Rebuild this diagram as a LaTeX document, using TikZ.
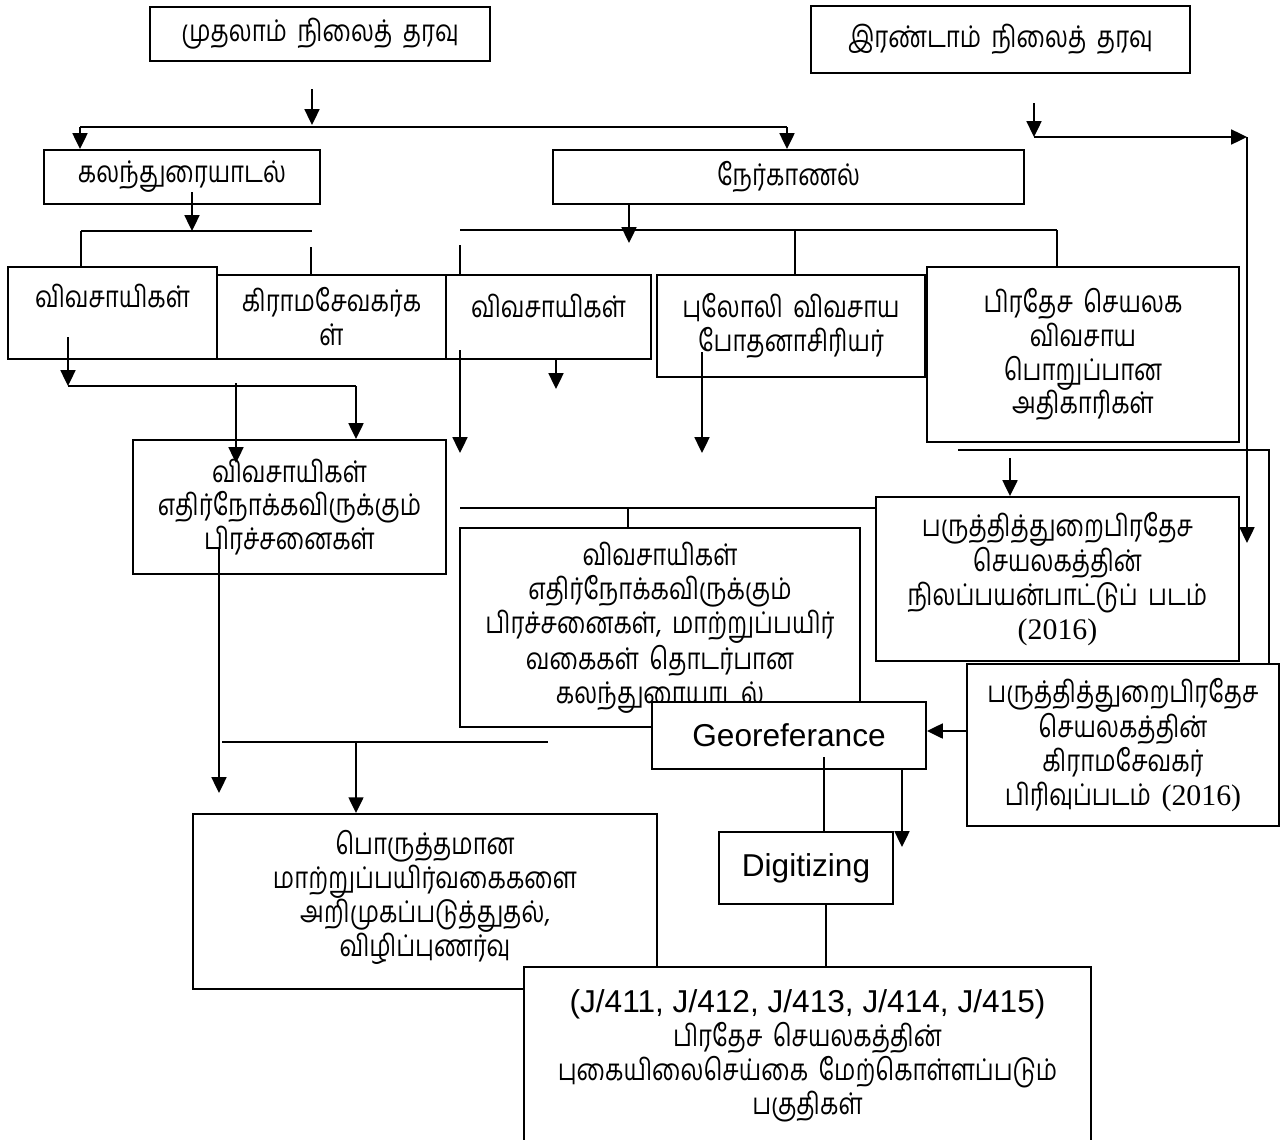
\documentclass[tikz,border=0pt]{standalone}
\usepackage{fontspec}
\setmainfont{Liberation Serif}
\newfontfamily\tamilfont[Script=Tamil, FakeStretch=0.8, WordSpace=1.8]{Hind Madurai}
\newfontfamily\latinfont{Liberation Sans}
\usetikzlibrary{arrows.meta}

\begin{document}
\begin{tikzpicture}[x=0.02cm, y=-0.02cm,
    box/.style={draw, line width=1.1pt, fill=white, align=center, inner sep=0pt, font=\tamilfont\fontsize{17}{19.3}\selectfont},
    engbox/.style={box, font=\latinfont\fontsize{18}{21}\selectfont},
    link/.style={line width=1.1pt},
    flow/.style={line width=1.1pt, -{Triangle[length=9pt, width=8.5pt]}}]
    \useasboundingbox (0,0) rectangle (1284,1139);

    % Data sources
    \node[box, minimum width=6.8cm, minimum height=1.08cm] (first) at (320,34) {முதலாம் நிலைத் தரவு};
    \node[box, minimum width=7.58cm, minimum height=1.34cm] (second) at (1000.5,39.5) {இரண்டாம் நிலைத் தரவு};

    % Methods
    \node[box, minimum width=5.52cm, minimum height=1.08cm] (discuss) at (182,177) {கலந்துரையாடல்};
    \node[box, minimum width=9.42cm, minimum height=1.08cm] (interview) at (788.5,177) {நேர்காணல்};

    % Participants
    \node[box, minimum width=4.18cm, minimum height=1.84cm] (farmersA) at (112.5,313) {விவசாயிகள்\\\mbox{}};
    \node[box, minimum width=4.58cm, minimum height=1.68cm] (gramasevaka) at (331.5,317) {கிராமசேவகர்க\\ள்};
    \node[box, minimum width=4.1cm, minimum height=1.68cm] (farmersB) at (548.5,317) {விவசாயிகள்\\[-6pt]\mbox{}};
    \node[box, minimum width=5.36cm, minimum height=2.04cm] (instructor) at (791,326) {புலோலி விவசாய\\போதனாசிரியர்};
    \node[box, minimum width=6.24cm, minimum height=3.5cm] (officers) at (1083,354.5) {பிரதேச செயலக\\விவசாய\\பொறுப்பான\\அதிகாரிகள்};

    % Results
    \node[box, minimum width=6.26cm, minimum height=2.68cm] (issues) at (289.5,507) {விவசாயிகள்\\எதிர்நோக்கவிருக்கும்\\பிரச்சனைகள்};
    \node[box, minimum width=8cm, minimum height=3.98cm] (discussion) at (660,627.5) {விவசாயிகள்\\எதிர்நோக்கவிருக்கும்\\பிரச்சனைகள், மாற்றுப்பயிர்\\வகைகள் தொடர்பான\\கலந்துரையாடல்};
    \node[box, minimum width=7.26cm, minimum height=3.28cm] (landuse) at (1057.5,579) {பருத்தித்துறைபிரதேச\\செயலகத்தின்\\நிலப்பயன்பாட்டுப் படம்\\{\rmfamily (2016)}};
    \node[box, minimum width=6.24cm, minimum height=3.24cm] (gsmap) at (1123,745) {பருத்தித்துறைபிரதேச\\செயலகத்தின்\\கிராமசேவகர்\\பிரிவுப்படம் {\rmfamily (2016)}};
    \node[engbox, minimum width=5.48cm, minimum height=1.34cm] (georef) at (789,735.5) {Georeferance};
    \node[box, minimum width=9.28cm, minimum height=3.5cm] (awareness) at (425,901.5) {பொருத்தமான\\மாற்றுப்பயிர்வகைகளை\\அறிமுகப்படுத்துதல்,\\விழிப்புணர்வு\\[-10pt]\mbox{}};
    \node[engbox, minimum width=3.48cm, minimum height=1.44cm] (digitizing) at (806,868) {Digitizing};
    \node[box, minimum width=11.34cm, minimum height=3.56cm] (areas) at (807.5,1056) {{\latinfont\fontsize{18}{21}\selectfont (J/411, J/412, J/413, J/414, J/415)}\\பிரதேச செயலகத்தின்\\புகையிலைசெய்கை மேற்கொள்ளப்படும்\\பகுதிகள்};

    % Junctions
    \coordinate (firstOut) at (312,89);
    \coordinate (splitL) at (80,127);
    \coordinate (splitR) at (787,127);
    \coordinate (discussOut) at (192,192);
    \coordinate (discussBarL) at (81,231);
    \coordinate (discussBarR) at (312,231);
    \coordinate (gsTick) at (311,247);
    \coordinate (interviewOut) at (629,243);
    \coordinate (interviewBarL) at (460,230);
    \coordinate (interviewBarM) at (795,230);
    \coordinate (interviewBarR) at (1057,230);
    \coordinate (farmersTick) at (460,245);
    \coordinate (secondOut) at (1034,103);
    \coordinate (secondBend) at (1034,137);
    \coordinate (rightBend) at (1247,137);
    \coordinate (rightEnd) at (1247,543);
    \coordinate (farmersOut) at (68,337);
    \coordinate (farmersBarL) at (68,386);
    \coordinate (farmersBarR) at (356,386);
    \coordinate (farmersMid) at (236,383);
    \coordinate (farmersMidEnd) at (236,463);
    \coordinate (farmersBOut) at (460,350);
    \coordinate (farmersBEnd) at (460,453);
    \coordinate (farmersBDown) at (556,389);
    \coordinate (instructorOut) at (702,352);
    \coordinate (instructorEnd) at (702,453);
    \coordinate (officersBarL) at (958,450);
    \coordinate (officersBarR) at (1269,450);
    \coordinate (officersArrow) at (1010,458);
    \coordinate (discussionBarL) at (460,508);
    \coordinate (discussionTick) at (628,508);
    \coordinate (issuesOut) at (219,548);
    \coordinate (issuesEnd) at (219,793);
    \coordinate (awarenessBarL) at (222,742);
    \coordinate (awarenessBarR) at (548,742);
    \coordinate (awarenessArrow) at (356,742);
    \coordinate (gsmapArrow) at (967,731);
    \coordinate (georefIn) at (824,757);
    \coordinate (georefDown) at (902,769);
    \coordinate (georefEnd) at (902,847);
    \coordinate (digitizingDown) at (826,904);

    % Connectors
    \draw[flow] (firstOut) -- ++(0,36);
    \draw[link] (splitL) -- (splitR);
    \draw[flow] (splitL) -- (splitL |- discuss.north);
    \draw[flow] (splitR) -- (splitR |- interview.north);
    \draw[flow] (discussOut) -- (discussOut |- discussBarL);
    \draw[link] (discussBarL) -- (discussBarR);
    \draw[link] (discussBarL) -- (discussBarL |- farmersA.north);
    \draw[link] (gsTick) -- (gsTick |- gramasevaka.north);
    \draw[flow] (interviewOut |- interview.south) -- (interviewOut);
    \draw[link] (interviewBarL) -- (interviewBarR);
    \draw[link] (farmersTick) -- (farmersTick |- farmersB.north);
    \draw[link] (interviewBarM) -- (interviewBarM |- instructor.north);
    \draw[link] (interviewBarR) -- (interviewBarR |- officers.north);
    \draw[flow] (secondOut) -- (secondBend);
    \draw[flow] (secondBend) -- (rightBend);
    \draw[flow] (rightBend) -- (rightEnd);
    \draw[flow] (farmersOut) -- (farmersBarL);
    \draw[link] (farmersBarL) -- (farmersBarR);
    \draw[flow] (farmersMid) -- (farmersMidEnd);
    \draw[flow] (farmersBarR) -- (farmersBarR |- issues.north);
    \draw[flow] (farmersBOut) -- (farmersBEnd);
    \draw[flow] (farmersBDown |- farmersB.south) -- (farmersBDown);
    \draw[flow] (instructorOut) -- (instructorEnd);
    \draw[link] (officersBarL) -- (officersBarR) -- (officersBarR |- gsmap.north);
    \draw[flow] (officersArrow) -- (officersArrow |- landuse.north);
    \draw[link] (discussionBarL) -- (discussionBarL -| landuse.west);
    \draw[link] (discussionTick) -- (discussionTick |- discussion.north);
    \draw[flow] (issuesOut) -- (issuesEnd);
    \draw[link] (awarenessBarL) -- (awarenessBarR);
    \draw[flow] (awarenessArrow) -- (awarenessArrow |- awareness.north);
    \draw[flow] (gsmapArrow) -- (gsmapArrow -| georef.east);
    \draw[link] (georefIn) -- (georefIn |- digitizing.north);
    \draw[flow] (georefDown) -- (georefEnd);
    \draw[link] (digitizingDown) -- (digitizingDown |- areas.north);

\end{tikzpicture}
\end{document}
